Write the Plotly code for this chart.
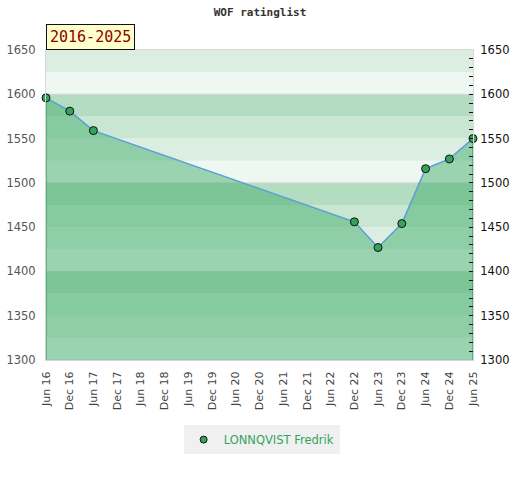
import plotly.graph_objects as go

dates = ["2016-06-01", "2016-12-01", "2017-06-01", "2022-12-01", "2023-06-01",
         "2023-12-01", "2024-06-01", "2024-12-01", "2025-06-01"]
ratings = [1596, 1581, 1559, 1456, 1427, 1454, 1516, 1527, 1550]
player = "LONNQVIST Fredrik"
period_label = "2016-2025"
title_text = "WOF ratinglist"
y_min, y_max = 1300, 1650

fig = go.Figure()

# background bands
band_colors = ["#eef7f1", "#dbeee1", "#c8e6d2", "#b3dcc0"]
for lo in range(y_min, y_max, 25):
    fig.add_shape(type="rect", xref="paper", yref="y", x0=0, x1=1, y0=lo, y1=lo + 25,
                  fillcolor=band_colors[(lo % 100) // 25], line_width=0, layer="below")
for lv in range(y_min, y_max + 1, 100):
    fig.add_shape(type="line", xref="paper", yref="y", x0=0, x1=1, y0=lv, y1=lv,
                  line=dict(color="#d4d4d4", width=1), layer="below")

fig.add_trace(go.Scatter(
    x=dates, y=ratings, mode="lines", fill="tozeroy",
    fillcolor="rgba(63,172,104,0.48)", line=dict(color="#5b9fd6", width=1.5),
    showlegend=False, hoverinfo="skip"))

# vertical edges of the filled area
for d, v in [(dates[0], ratings[0]), (dates[-1], ratings[-1])]:
    fig.add_trace(go.Scatter(x=[d, d], y=[y_min, v], mode="lines",
                             line=dict(color="#3a9a5a", width=1.2),
                             showlegend=False, hoverinfo="skip"))

fig.add_trace(go.Scatter(
    x=dates, y=ratings, mode="markers", name=player,
    marker=dict(color="#35a35c", size=8, line=dict(color="#111", width=1)),
    showlegend=False, cliponaxis=False))

fig.add_trace(go.Scatter(
    x=[None], y=[None], mode="markers", name=player,
    marker=dict(color="#35a35c", size=7, line=dict(color="#111", width=1))))

fig.add_trace(go.Scatter(x=[dates[0]], y=[None], yaxis="y2", showlegend=False,
                         hoverinfo="skip", mode="markers"))

fig.update_layout(
    width=520, height=480,
    margin=dict(l=46, r=47, t=50, b=120),
    paper_bgcolor="white", plot_bgcolor="white",
    title=dict(text="<b>" + title_text + "</b>", x=0.5, xanchor="center",
               yref="container", y=1, yanchor="top", pad=dict(t=8),
               font=dict(family="DejaVu Sans Mono", size=11, color="#333")),
    xaxis=dict(type="date", range=[dates[0], dates[-1]], dtick="M6", tick0="2016-06-01",
               tickformat="%b %y", tickangle=-90, showgrid=False, zeroline=False,
               showline=True, linecolor="#d8d8d8", mirror=True, ticks="", automargin=False,
               ticklabelstandoff=6,
               tickfont=dict(family="DejaVu Sans", size=11, color="#444")),
    yaxis=dict(range=[y_min, y_max], dtick=50, showgrid=False, zeroline=False,
               showline=True, linecolor="#d8d8d8", ticks="", automargin=False,
               ticklabelstandoff=7,
               tickfont=dict(family="DejaVu Sans", size=11.5, color="#555")),
    yaxis2=dict(range=[y_min, y_max], dtick=50, overlaying="y", side="right",
                showgrid=False, zeroline=False, showline=True, linecolor="#d8d8d8",
                ticks="inside", ticklen=4, tickcolor="#111", automargin=False,
                ticklabelstandoff=4,
                minor=dict(dtick=10, ticks="inside", ticklen=4, tickcolor="#111"),
                tickfont=dict(family="DejaVu Sans", size=11.5, color="#111")),
    legend=dict(orientation="h", x=0.505, xanchor="center", y=-0.21, yanchor="top",
                bgcolor="#f0f0f0", font=dict(family="DejaVu Sans", size=11.5, color="#35a35c")),
    annotations=[dict(text=period_label, xref="paper", yref="paper", x=0, y=1,
                      xanchor="left", yanchor="bottom", showarrow=False,
                      font=dict(family="DejaVu Sans Mono", size=15, color="#8b0000"),
                      bgcolor="#ffffcc", bordercolor="#111", borderwidth=1, borderpad=3)],
)

fig.write_html("out.html", config={"displayModeBar": False},
               post_script="document.body.style.margin='0';")
